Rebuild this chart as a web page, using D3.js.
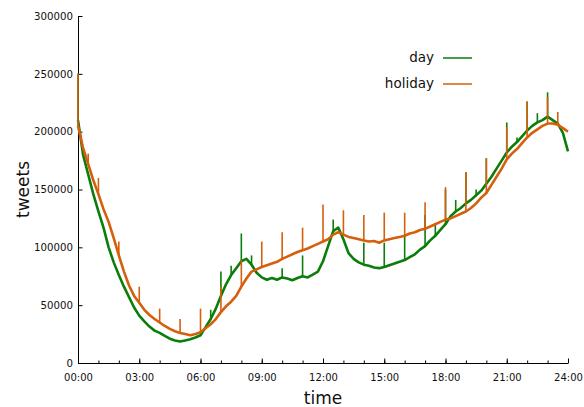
<!DOCTYPE html>
<html>
<head>
<meta charset="utf-8">
<script src="https://cdn.jsdelivr.net/npm/d3@7"></script>
<style>
    body { margin: 0; background: #fff; }
    text { font-family: "DejaVu Sans", Verdana, sans-serif; }
</style>
</head>
<body>
<svg id="SVG_CONTAINER" width="584" height="407"></svg>
<script>
let d3 = window.d3;

// data: one value every 15 minutes, 00:00 .. 24:00
const seriesNames = ["day", "holiday"];
const stepMinutes = 15;

const dayValues = [
    210000, 180000, 163000, 146000, 131000, 117000, 100000, 87000,
    76000, 66000, 57000, 48000, 41000, 36000, 31500, 28000,
    26000, 23500, 21000, 19500, 18500, 19500, 20500, 22000,
    24000, 31000, 38000, 47000, 58000, 68000, 76000, 82000,
    88000, 90000, 85000, 78000, 74000, 72000, 73500, 72000,
    74000, 73000, 71500, 73500, 75000, 74000, 76500, 79000,
    88000, 101000, 114000, 117000, 107000, 95000, 90000, 87000,
    85000, 84000, 82500, 82000, 83000, 84500, 86000, 87500,
    89000, 91500, 94000, 98000, 101000, 106000, 110000, 115000,
    120000, 127000, 131000, 134000, 138000, 141000, 145000, 149000,
    155000, 161000, 168000, 175000, 182000, 187000, 191000, 196000,
    201000, 205000, 208000, 210000, 213000, 210000, 207000, 199000,
    183000
];

const holidayValues = [
    205000, 186000, 172000, 158000, 146000, 133000, 122000, 108000,
    93000, 79000, 67000, 58000, 52000, 46000, 41500, 38000,
    35000, 32000, 29500, 27500, 26000, 25000, 24000, 25000,
    26500, 30000, 33500, 38000, 44000, 49000, 53000, 58000,
    66000, 73000, 79000, 81000, 83000, 84500, 86000, 87500,
    90000, 92000, 94000, 96000, 97500, 99000, 101000, 103000,
    105000, 107000, 111000, 113000, 111000, 109000, 108000, 107000,
    106000, 105000, 105500, 104000, 106000, 107000, 108000, 109000,
    110000, 112000, 113000, 115000, 116000, 118000, 120000, 122000,
    124000, 125000, 127000, 129000, 131000, 134000, 138000, 143000,
    147000, 154000, 161000, 168000, 176000, 181000, 185000, 190000,
    195000, 199000, 202000, 205000, 207000, 207000, 206000, 203000,
    200000
];

// short bursts: [minute, peak tweets]
const daySpikes = [
    [0, 250000], [390, 46000], [420, 79000], [450, 84000], [480, 112000], [510, 93000],
    [600, 82000], [660, 93000], [750, 124000], [840, 104000], [900, 104000],
    [960, 110000], [1020, 128000], [1050, 121000], [1080, 150000], [1110, 141000], [1140, 165000],
    [1170, 150000], [1200, 177000], [1260, 208000], [1290, 195000], [1320, 226000],
    [1350, 216000], [1380, 234000]
];

const holidaySpikes = [
    [0, 250000], [30, 181000], [60, 160000], [120, 105000], [180, 66000],
    [240, 47000], [300, 38000], [360, 47000], [420, 66000], [480, 89000],
    [540, 105000], [600, 113000], [660, 117000], [720, 137000], [780, 132000],
    [840, 128000], [900, 130000], [960, 130000], [1020, 139000], [1080, 152000],
    [1140, 165000], [1200, 177000], [1260, 204000], [1320, 226000], [1380, 230000],
    [1410, 217000]
];

const yTicks = [0, 50000, 100000, 150000, 200000, 250000, 300000];
const xTickLabels = ["00:00", "03:00", "06:00", "09:00", "12:00", "15:00", "18:00", "21:00", "24:00"];

const colors = { "day": "#0a7d0a", "holiday": "#d55f0c" };

const MARGIN = {
    "LEFT": 78,
    "RIGHT": 16,
    "TOP": 16,
    "BOTTOM": 44,
};

const width = 584,
      height = 407;

let svg = d3.select("#SVG_CONTAINER");

let xScale = d3.scaleLinear()
    .domain([0, 1440])
    .range([MARGIN.LEFT, width - MARGIN.RIGHT]);

let yScale = d3.scaleLinear()
    .domain([0, 300000])
    .range([height - MARGIN.BOTTOM, MARGIN.TOP]);

// x axis: hourly minor ticks, labelled ticks every 3 hours
svg.append("g")
    .attr("transform", "translate(0," + (height - MARGIN.BOTTOM) + ")")
    .call(d3.axisBottom(xScale)
        .tickValues(d3.range(0, 1441, 60))
        .tickSizeInner(-2.5)
        .tickSizeOuter(0)
        .tickFormat(""))
    .call(g => g.select(".domain").attr("stroke", "#000"));

svg.append("g")
    .attr("transform", "translate(0," + (height - MARGIN.BOTTOM) + ")")
    .call(d3.axisBottom(xScale)
        .tickValues(d3.range(0, 1441, 180))
        .tickSizeInner(-4.5)
        .tickSizeOuter(0)
        .tickPadding(11)
        .tickFormat((d, i) => xTickLabels[i]))
    .call(g => g.select(".domain").remove())
    .selectAll("text")
        .style("font-size", "10px")
        .attr("fill", "#111");

// y axis
svg.append("g")
    .attr("transform", "translate(" + MARGIN.LEFT + ",0)")
    .call(d3.axisLeft(yScale)
        .tickValues(yTicks)
        .tickSizeInner(-4.5)
        .tickSizeOuter(0)
        .tickPadding(5)
        .tickFormat(d3.format("d")))
    .selectAll("text")
        .style("font-size", "10.2px")
        .attr("fill", "#111");

// lines
let line = d3.line()
    .x((d, i) => xScale(i * stepMinutes))
    .y(d => yScale(d));

let seriesData = { "day": [dayValues, daySpikes], "holiday": [holidayValues, holidaySpikes] };

seriesNames.forEach(function (name) {
    let values = seriesData[name][0],
        spikes = seriesData[name][1];

    svg.append("path")
        .datum(values)
        .attr("fill", "none")
        .attr("stroke", colors[name])
        .attr("stroke-width", 2.6)
        .attr("stroke-linejoin", "round")
        .attr("d", line);

    svg.append("g")
        .selectAll("line")
        .data(spikes)
        .enter()
        .append("line")
            .attr("x1", d => xScale(d[0]))
            .attr("x2", d => xScale(d[0]))
            .attr("y1", d => yScale(values[d[0] / stepMinutes]))
            .attr("y2", d => yScale(d[1]))
            .attr("stroke", colors[name])
            .attr("stroke-width", 1.6);
});

// legend
seriesNames.forEach(function (name, i) {
    let ly = 58 + i * 26;
    svg.append("text")
        .attr("x", 434)
        .attr("y", ly + 4)
        .attr("text-anchor", "end")
        .style("font-size", "13.5px")
        .attr("fill", "#111")
        .text(name);
    svg.append("line")
        .attr("x1", 443)
        .attr("x2", 472)
        .attr("y1", ly)
        .attr("y2", ly)
        .attr("stroke", colors[name])
        .attr("stroke-width", 1.5);
});

// axis labels
svg.append("text")
    .attr("x", (MARGIN.LEFT + width - MARGIN.RIGHT) / 2)
    .attr("y", 404)
    .attr("text-anchor", "middle")
    .style("font-size", "17px")
    .attr("fill", "#111")
    .text("time");

svg.append("text")
    .attr("transform", "translate(29," + ((MARGIN.TOP + height - MARGIN.BOTTOM) / 2) + ")rotate(-90)")
    .attr("text-anchor", "middle")
    .style("font-size", "17px")
    .attr("fill", "#111")
    .text("tweets");
</script>
</body>
</html>
